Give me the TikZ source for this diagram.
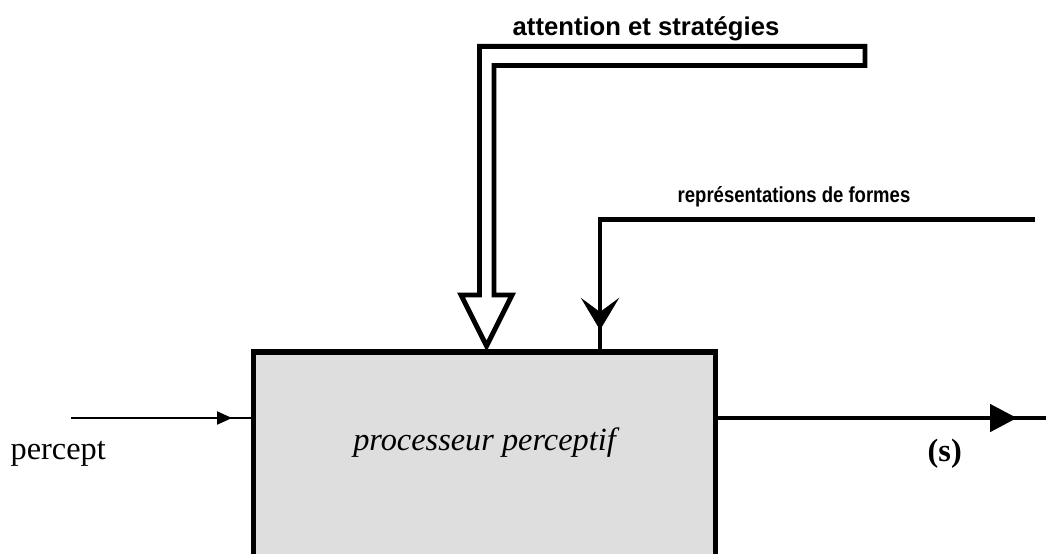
\documentclass[tikz,border=0pt]{standalone}
\usepackage{fontspec}
\setmainfont{Liberation Serif}
\setsansfont{Liberation Sans}
\usepackage{xcolor}
\definecolor{procgray}{RGB}{222,222,222}
\usepackage{tikz}
\usetikzlibrary{arrows.meta, positioning, calc}

\begin{document}
\begin{tikzpicture}[
    thickline/.style={line width=1.4pt},
    thinline/.style={line width=0.6pt},
    procbox/.style={draw, line width=1.5pt, fill=procgray, outer sep=0pt,
      inner sep=0pt, minimum width=4.62cm, minimum height=2.6cm},
    serif/.style={inner sep=0pt, font=\fontsize{9.2}{11}\selectfont},
    sans/.style={inner sep=0pt, font=\sffamily\bfseries\fontsize{7.3}{9}\selectfont}
  ]
  \useasboundingbox (0,0) rectangle (10.46,5.53);
  \clip (0,0) rectangle (10.46,5.53);

  % Processor box (runs off the bottom edge)
  \node[procbox, anchor=north west] (proc) at (2.535,2.01) {};
  \node[serif, font=\fontsize{9.2}{11}\selectfont\itshape, anchor=base]
    (proctxt) at (4.845,1.03) {processeur perceptif};

  % Input
  \coordinate (in) at (0.71,1.35);
  \coordinate (intip) at (2.32,1.35);
  \draw[thinline, -{Triangle[length=0.15cm,width=0.13cm]}] (in) -- (intip);
  \draw[thinline] ($(intip)+(-0.08,0)$) -- (proc.west |- intip);
  \node[serif, anchor=base west] (percept) at (0.10,0.94) {percept};

  % Output
  \coordinate (outtip) at (10.17,1.35);
  \coordinate (out) at (10.50,1.35);
  \draw[thickline, -{Triangle[length=0.27cm,width=0.27cm]}] (proc.east |- outtip) -- (outtip);
  \draw[thickline] ($(outtip)+(-0.12,0)$) -- (out);
  \node[serif, font=\fontsize{9.2}{11}\selectfont\bfseries, anchor=base west]
    (s) at (9.27,0.92) {(s)};

  % Representations de formes
  \coordinate (rep) at (10.35,3.335);
  \coordinate (reptip) at (6.00,2.23);
  \draw[thickline, -{Stealth[length=0.32cm,width=0.38cm,inset=0.14cm]}] (rep) -| (reptip);
  \draw[thickline] ($(reptip)+(0,0.12)$) -- (proc.north -| reptip);
  \node[sans, font=\sffamily\bfseries\fontsize{6.2}{8}\selectfont, anchor=base]
    (reptxt) at (7.94,3.51) {\scalebox{0.85}[1]{représentations de formes}};

  % Attention et strategies (hollow arrow)
  \draw[thickline, line join=miter]
    (8.65,5.067) -- (4.795,5.067) -- (4.795,2.58) -- (4.61,2.58)
    -- (4.865,2.07) -- (5.12,2.58) -- (4.94,2.58) -- (4.94,4.875)
    -- (8.65,4.875) -- cycle;
  \node[sans, anchor=base] (attn) at (6.46,5.18) {attention et stratégies};

\end{tikzpicture}
\end{document}
